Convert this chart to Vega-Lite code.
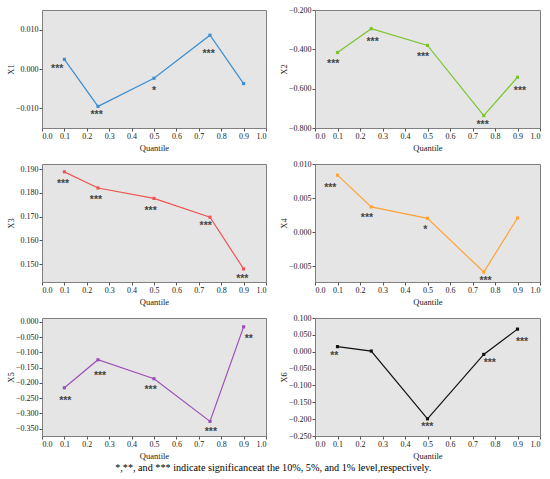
{
  "$schema": "https://vega.github.io/schema/vega-lite/v6.json",
  "datasets": {
    "x1": [{"q": 0.1, "v": 0.00245}, {"q": 0.25, "v": -0.0095}, {"q": 0.5, "v": -0.00235}, {"q": 0.75, "v": 0.0086}, {"q": 0.9, "v": -0.0037}],
    "x1s": [{"q": 0.068, "v": 0.0008, "sig": "***"}, {"q": 0.244, "v": -0.011, "sig": "***"}, {"q": 0.5, "v": -0.0049, "sig": "*"}, {"q": 0.744, "v": 0.0047, "sig": "***"}],
    "x2": [{"q": 0.1, "v": -0.416}, {"q": 0.25, "v": -0.295}, {"q": 0.5, "v": -0.38}, {"q": 0.75, "v": -0.737}, {"q": 0.9, "v": -0.542}],
    "x2s": [{"q": 0.081, "v": -0.46, "sig": "***"}, {"q": 0.256, "v": -0.346, "sig": "***"}, {"q": 0.48, "v": -0.426, "sig": "***"}, {"q": 0.745, "v": -0.769, "sig": "***"}, {"q": 0.911, "v": -0.598, "sig": "***"}],
    "x3": [{"q": 0.1, "v": 0.1889}, {"q": 0.25, "v": 0.1821}, {"q": 0.5, "v": 0.1777}, {"q": 0.75, "v": 0.1698}, {"q": 0.9, "v": 0.148}],
    "x3s": [{"q": 0.094, "v": 0.1849, "sig": "***"}, {"q": 0.241, "v": 0.1784, "sig": "***"}, {"q": 0.485, "v": 0.1736, "sig": "***"}, {"q": 0.731, "v": 0.1672, "sig": "***"}, {"q": 0.894, "v": 0.1452, "sig": "***"}],
    "x4": [{"q": 0.1, "v": 0.00837}, {"q": 0.25, "v": 0.00371}, {"q": 0.5, "v": 0.00203}, {"q": 0.75, "v": -0.00584}, {"q": 0.9, "v": 0.00208}],
    "x4s": [{"q": 0.068, "v": 0.00693, "sig": "***"}, {"q": 0.231, "v": 0.00252, "sig": "***"}, {"q": 0.49, "v": 0.00079, "sig": "*"}, {"q": 0.758, "v": -0.00668, "sig": "***"}],
    "x5": [{"q": 0.1, "v": -0.216}, {"q": 0.25, "v": -0.124}, {"q": 0.5, "v": -0.186}, {"q": 0.75, "v": -0.326}, {"q": 0.9, "v": -0.016}],
    "x5s": [{"q": 0.104, "v": -0.251, "sig": "***"}, {"q": 0.259, "v": -0.167, "sig": "***"}, {"q": 0.485, "v": -0.214, "sig": "***"}, {"q": 0.754, "v": -0.351, "sig": "***"}, {"q": 0.923, "v": -0.047, "sig": "**"}],
    "x6": [{"q": 0.1, "v": 0.015}, {"q": 0.25, "v": 0.002}, {"q": 0.5, "v": -0.199}, {"q": 0.75, "v": -0.008}, {"q": 0.9, "v": 0.067}],
    "x6s": [{"q": 0.086, "v": -0.004, "sig": "**"}, {"q": 0.499, "v": -0.215, "sig": "***"}, {"q": 0.777, "v": -0.026, "sig": "***"}, {"q": 0.92, "v": 0.038, "sig": "***"}]
  },
  "title": {
    "text": "*,**, and *** indicate significanceat the 10%, 5%, and 1% level,respectively.",
    "orient": "bottom", "anchor": "middle", "font": "Liberation Serif",
    "fontSize": 10.2, "fontWeight": "normal", "color": "#000000", "offset": 3
  },
  "columns": 2,
  "spacing": {"row": 36, "column": 49},
  "bounds": "flush",
  "concat": [
    {
      "width": 224, "height": 118,
      "encoding": {
        "x": {"field": "q", "type": "quantitative", "title": "Quantile", "scale": {"domain": [0, 1]}, "axis": {"values": [0, 0.1, 0.2, 0.3, 0.4, 0.5, 0.6, 0.7, 0.8, 0.9, 1], "format": ".1f"}},
        "y": {"field": "v", "type": "quantitative", "title": "X1", "scale": {"domain": [-0.015, 0.015], "nice": false, "zero": false}, "axis": {"values": [-0.01, 0, 0.01], "format": ".3f"}}
      },
      "layer": [
        {"data": {"name": "x1"}, "mark": {"type": "line", "color": "#3d8fd1", "strokeWidth": 1.2}},
        {"data": {"name": "x1"}, "mark": {"type": "point", "shape": "square", "filled": true, "size": 10, "opacity": 1, "color": "#3d8fd1"}},
        {"data": {"name": "x1s"}, "mark": {"type": "text", "font": "Liberation Sans", "fontSize": 10.5, "fontWeight": "bold", "color": "#444444", "baseline": "alphabetic", "dy": 6}, "encoding": {"text": {"field": "sig"}}}
      ]
    },
    {
      "width": 225, "height": 118,
      "encoding": {
        "x": {"field": "q", "type": "quantitative", "title": "Quantile", "scale": {"domain": [0, 1]}, "axis": {"values": [0, 0.1, 0.2, 0.3, 0.4, 0.5, 0.6, 0.7, 0.8, 0.9, 1], "format": ".1f"}},
        "y": {"field": "v", "type": "quantitative", "title": "X2", "scale": {"domain": [-0.8, -0.2], "nice": false, "zero": false}, "axis": {"values": [-0.8, -0.6, -0.4, -0.2], "format": ".3f"}}
      },
      "layer": [
        {"data": {"name": "x2"}, "mark": {"type": "line", "color": "#7cc42c", "strokeWidth": 1.2}},
        {"data": {"name": "x2"}, "mark": {"type": "point", "shape": "square", "filled": true, "size": 10, "opacity": 1, "color": "#7cc42c"}},
        {"data": {"name": "x2s"}, "mark": {"type": "text", "font": "Liberation Sans", "fontSize": 10.5, "fontWeight": "bold", "color": "#444444", "baseline": "alphabetic", "dy": 6}, "encoding": {"text": {"field": "sig"}}}
      ]
    },
    {
      "width": 224, "height": 118,
      "encoding": {
        "x": {"field": "q", "type": "quantitative", "title": "Quantile", "scale": {"domain": [0, 1]}, "axis": {"values": [0, 0.1, 0.2, 0.3, 0.4, 0.5, 0.6, 0.7, 0.8, 0.9, 1], "format": ".1f"}},
        "y": {"field": "v", "type": "quantitative", "title": "X3", "scale": {"domain": [0.1425, 0.1922], "nice": false, "zero": false}, "axis": {"values": [0.15, 0.16, 0.17, 0.18, 0.19], "format": ".3f"}}
      },
      "layer": [
        {"data": {"name": "x3"}, "mark": {"type": "line", "color": "#f05454", "strokeWidth": 1.2}},
        {"data": {"name": "x3"}, "mark": {"type": "point", "shape": "square", "filled": true, "size": 10, "opacity": 1, "color": "#f05454"}},
        {"data": {"name": "x3s"}, "mark": {"type": "text", "font": "Liberation Sans", "fontSize": 10.5, "fontWeight": "bold", "color": "#444444", "baseline": "alphabetic", "dy": 6}, "encoding": {"text": {"field": "sig"}}}
      ]
    },
    {
      "width": 225, "height": 118,
      "encoding": {
        "x": {"field": "q", "type": "quantitative", "title": "Quantile", "scale": {"domain": [0, 1]}, "axis": {"values": [0, 0.1, 0.2, 0.3, 0.4, 0.5, 0.6, 0.7, 0.8, 0.9, 1], "format": ".1f"}},
        "y": {"field": "v", "type": "quantitative", "title": "X4", "scale": {"domain": [-0.0073, 0.01], "nice": false, "zero": false}, "axis": {"values": [-0.005, 0, 0.005, 0.01], "format": ".3f"}}
      },
      "layer": [
        {"data": {"name": "x4"}, "mark": {"type": "line", "color": "#ffa436", "strokeWidth": 1.2}},
        {"data": {"name": "x4"}, "mark": {"type": "point", "shape": "square", "filled": true, "size": 10, "opacity": 1, "color": "#ffa436"}},
        {"data": {"name": "x4s"}, "mark": {"type": "text", "font": "Liberation Sans", "fontSize": 10.5, "fontWeight": "bold", "color": "#444444", "baseline": "alphabetic", "dy": 6}, "encoding": {"text": {"field": "sig"}}}
      ]
    },
    {
      "width": 224, "height": 118,
      "encoding": {
        "x": {"field": "q", "type": "quantitative", "title": "Quantile", "scale": {"domain": [0, 1]}, "axis": {"values": [0, 0.1, 0.2, 0.3, 0.4, 0.5, 0.6, 0.7, 0.8, 0.9, 1], "format": ".1f"}},
        "y": {"field": "v", "type": "quantitative", "title": "X5", "scale": {"domain": [-0.374, 0.013], "nice": false, "zero": false}, "axis": {"values": [-0.35, -0.3, -0.25, -0.2, -0.15, -0.1, -0.05, 0], "format": ".3f"}}
      },
      "layer": [
        {"data": {"name": "x5"}, "mark": {"type": "line", "color": "#9b50b8", "strokeWidth": 1.2}},
        {"data": {"name": "x5"}, "mark": {"type": "point", "shape": "square", "filled": true, "size": 10, "opacity": 1, "color": "#9b50b8"}},
        {"data": {"name": "x5s"}, "mark": {"type": "text", "font": "Liberation Sans", "fontSize": 10.5, "fontWeight": "bold", "color": "#444444", "baseline": "alphabetic", "dy": 6}, "encoding": {"text": {"field": "sig"}}}
      ]
    },
    {
      "width": 225, "height": 118,
      "encoding": {
        "x": {"field": "q", "type": "quantitative", "title": "Quantile", "scale": {"domain": [0, 1]}, "axis": {"values": [0, 0.1, 0.2, 0.3, 0.4, 0.5, 0.6, 0.7, 0.8, 0.9, 1], "format": ".1f"}},
        "y": {"field": "v", "type": "quantitative", "title": "X6", "scale": {"domain": [-0.25, 0.1], "nice": false, "zero": false}, "axis": {"values": [-0.25, -0.2, -0.15, -0.1, -0.05, 0, 0.05, 0.1], "format": ".3f"}}
      },
      "layer": [
        {"data": {"name": "x6"}, "mark": {"type": "line", "color": "#111111", "strokeWidth": 1.2}},
        {"data": {"name": "x6"}, "mark": {"type": "point", "shape": "square", "filled": true, "size": 10, "opacity": 1, "color": "#111111"}},
        {"data": {"name": "x6s"}, "mark": {"type": "text", "font": "Liberation Sans", "fontSize": 10.5, "fontWeight": "bold", "color": "#444444", "baseline": "alphabetic", "dy": 6}, "encoding": {"text": {"field": "sig"}}}
      ]
    }
  ],
  "config": {
    "background": "white",
    "font": "Liberation Serif",
    "view": {"fill": "#e5e5e5", "stroke": "#808080", "strokeWidth": 1},
    "axis": {
      "grid": false, "domain": false, "tickColor": "#555555", "tickSize": 3,
      "labelFont": "Liberation Serif", "labelFontSize": 8, "labelColor": "#222222", "labelPadding": 1,
      "titleFont": "Liberation Serif", "titleFontSize": 8.5, "titleFontWeight": "normal", "titleColor": "#222222"
    },
    "axisY": {"minExtent": 26, "maxExtent": 26, "titlePadding": 1},
    "axisX": {"titlePadding": 3}
  }
}
